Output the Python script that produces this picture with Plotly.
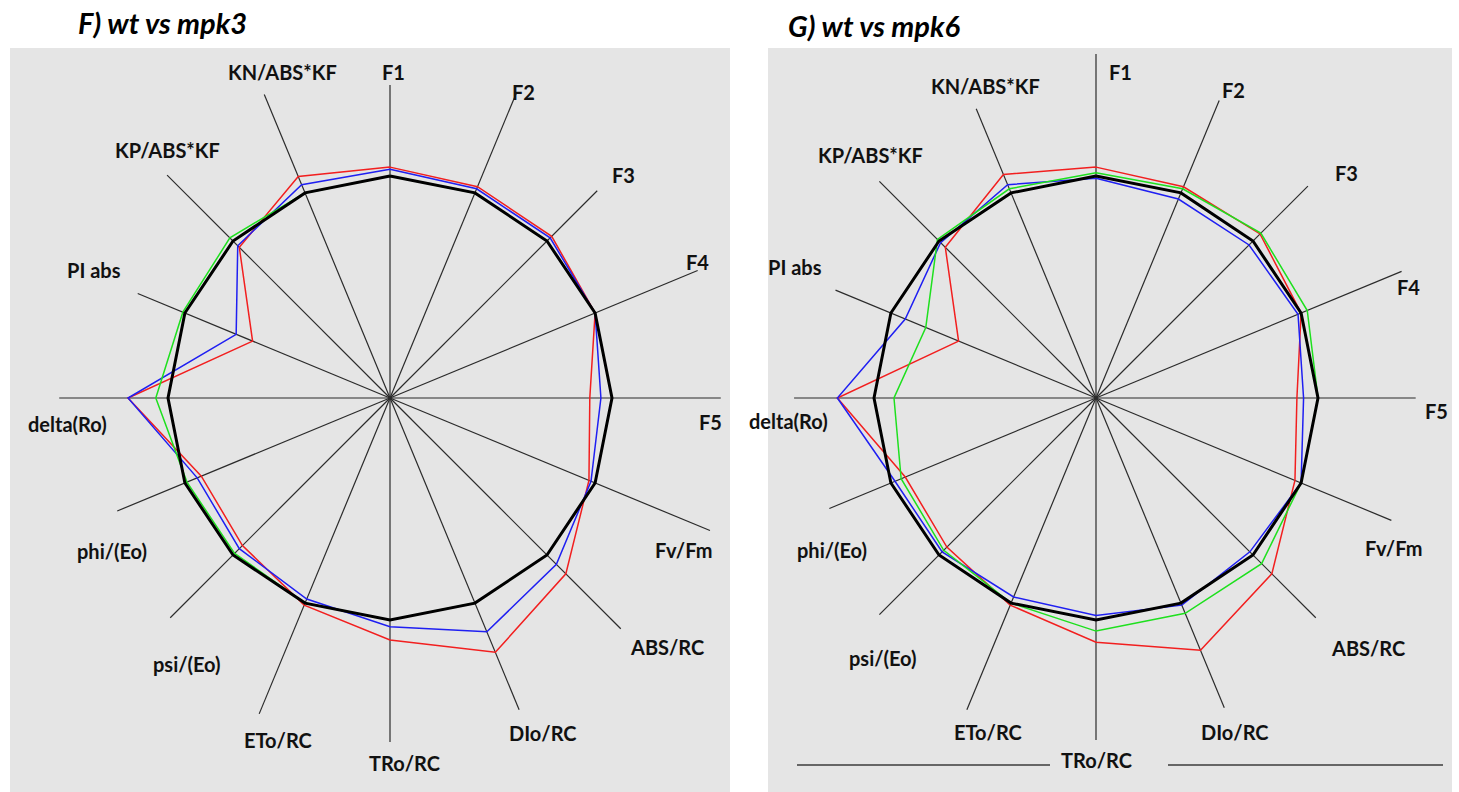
import plotly.graph_objects as go

W, H = 1459, 792

# JIP-test parameters, clockwise from the top
AXES = ["F1", "F2", "F3", "F4", "F5", "Fv/Fm", "ABS/RC", "DIo/RC", "TRo/RC",
        "ETo/RC", "psi/(Eo)", "phi/(Eo)", "delta(Ro)", "PI abs",
        "KP/ABS*KF", "KN/ABS*KF"]

# values normalised to wild type (wt = 1)
wt = [1.0] * 16

mpk3_red = [1.04, 1.03, 1.03, 1.00, 0.90, 0.97, 1.12, 1.24, 1.09, 1.01,
            0.94, 0.92, 1.18, 0.67, 0.96, 1.08]
mpk3_blue = [1.03, 1.02, 1.02, 1.00, 0.95, 0.98, 1.06, 1.14, 1.03, 0.98,
             0.96, 0.94, 1.18, 0.75, 0.97, 1.04]
mpk3_green = [1.00, 1.00, 1.00, 1.00, 1.00, 1.00, 1.00, 1.00, 1.00, 1.00,
              0.99, 0.99, 1.055, 1.01, 1.02, 1.00]

mpk6_red = [1.04, 1.03, 1.045, 1.00, 0.905, 0.97, 1.12, 1.23, 1.10, 1.01,
            0.95, 0.93, 1.165, 0.67, 0.96, 1.09]
mpk6_blue = [0.99, 0.97, 0.975, 0.985, 0.935, 1.00, 0.98, 1.01, 0.98, 0.97,
             0.98, 0.98, 1.165, 0.93, 0.99, 1.04]
mpk6_green = [1.015, 1.02, 1.05, 1.03, 1.00, 1.00, 1.055, 1.05, 1.05, 1.00,
              0.97, 0.95, 0.91, 0.83, 1.01, 1.02]

# spoke lengths (radial units) for each panel
spokes_left = [1.41, 1.49, 1.32, 1.50, 1.49, 1.56, 1.47, 1.52, 1.55, 1.54,
               1.40, 1.33, 1.49, 1.23, 1.42, 1.48]
spokes_right = [1.55, 1.45, 1.35, 1.49, 1.44, 1.44, 1.40, 1.51, 1.54, 1.52,
                1.38, 1.30, 1.36, 1.27, 1.38, 1.41]

# label anchor points (pixels) for each panel
label_px_left = [(393, 72), (523, 92), (623, 175), (697, 262), (710, 422),
                 (683, 550), (667, 647), (543, 733), (404, 763), (278, 740),
                 (187, 664), (112, 551), (67, 424), (94, 270), (167, 150),
                 (282, 72)]
label_px_right = [(1120, 72), (1233, 90), (1346, 173), (1408, 287),
                  (1436, 411), (1393, 548), (1368, 648), (1235, 732),
                  (1096, 760), (988, 732), (883, 658), (832, 550),
                  (788, 421), (795, 267), (870, 155), (985, 86)]

theta = [i * 22.5 for i in range(len(AXES))]

PX_PER_UNIT = 222
R_PX = 352
R_MAX = R_PX / PX_PER_UNIT
centers = [(390, 398), (1096, 398)]

fig = go.Figure()


def closed(v):
    return list(v) + [v[0]]


def add_panel(subplot, lengths, red, blue, green):
    rr, tt = [], []
    for t, L in zip(theta, lengths):
        rr += [0, L, None]
        tt += [t, t, None]
    fig.add_trace(go.Scatterpolar(r=rr, theta=tt, mode="lines",
                                  line=dict(color="#2b2b2b", width=1.2),
                                  subplot=subplot, hoverinfo="skip",
                                  cliponaxis=False))
    for vals, col, w in [(red, "#f21f1f", 1.5), (blue, "#1f1ff2", 1.5),
                         (green, "#1ee01e", 1.5), (wt, "#000000", 3)]:
        fig.add_trace(go.Scatterpolar(r=closed(vals), theta=closed(theta),
                                      mode="lines",
                                      line=dict(color=col, width=w),
                                      subplot=subplot, cliponaxis=False))


add_panel("polar", spokes_left, mpk3_red, mpk3_blue, mpk3_green)
add_panel("polar2", spokes_right, mpk6_red, mpk6_blue, mpk6_green)


def polar_layout(cx, cy):
    return dict(
        domain=dict(x=[(cx - R_PX) / W, (cx + R_PX) / W],
                    y=[(H - cy - R_PX) / H, (H - cy + R_PX) / H]),
        bgcolor="rgba(0,0,0,0)",
        radialaxis=dict(range=[0, R_MAX], visible=False),
        angularaxis=dict(rotation=90, direction="clockwise",
                         showticklabels=False, showgrid=False,
                         showline=False, ticks=""),
    )


GREY = "#e5e5e5"
shapes = [
    dict(type="rect", xref="paper", yref="paper", x0=10 / W, x1=730 / W,
         y0=0, y1=1 - 48 / H, fillcolor=GREY, line=dict(width=0),
         layer="below"),
    dict(type="rect", xref="paper", yref="paper", x0=768 / W, x1=1452 / W,
         y0=0, y1=1 - 48 / H, fillcolor=GREY, line=dict(width=0),
         layer="below"),
    dict(type="line", xref="paper", yref="paper", x0=797 / W, x1=1050 / W,
         y0=1 - 765 / H, y1=1 - 765 / H, line=dict(color="#666666", width=2)),
    dict(type="line", xref="paper", yref="paper", x0=1168 / W, x1=1443 / W,
         y0=1 - 765 / H, y1=1 - 765 / H, line=dict(color="#666666", width=2)),
]

annotations = []
for positions in (label_px_left, label_px_right):
    for name, (px, py) in zip(AXES, positions):
        annotations.append(dict(
            text=f"<b>{name}</b>", x=px / W, y=1 - py / H,
            xref="paper", yref="paper", xanchor="center", yanchor="middle",
            showarrow=False, font=dict(family="Lato", size=20, color="#111")))

for txt, px, py in [("F) wt vs mpk3", 76, 22), ("G) wt vs mpk6", 786, 25)]:
    annotations.append(dict(
        text=f"<b><i>{txt}</i></b>", x=px / W, y=1 - py / H,
        xref="paper", yref="paper", xanchor="left", yanchor="middle",
        showarrow=False, font=dict(family="Lato", size=29, color="#000")))

fig.update_layout(
    width=W, height=H,
    margin=dict(l=0, r=0, t=0, b=0),
    paper_bgcolor="white", plot_bgcolor="white",
    showlegend=False,
    polar=polar_layout(*centers[0]),
    polar2=polar_layout(*centers[1]),
    shapes=shapes,
    annotations=annotations,
)

fig.write_html("out.html", config={"displayModeBar": False})
